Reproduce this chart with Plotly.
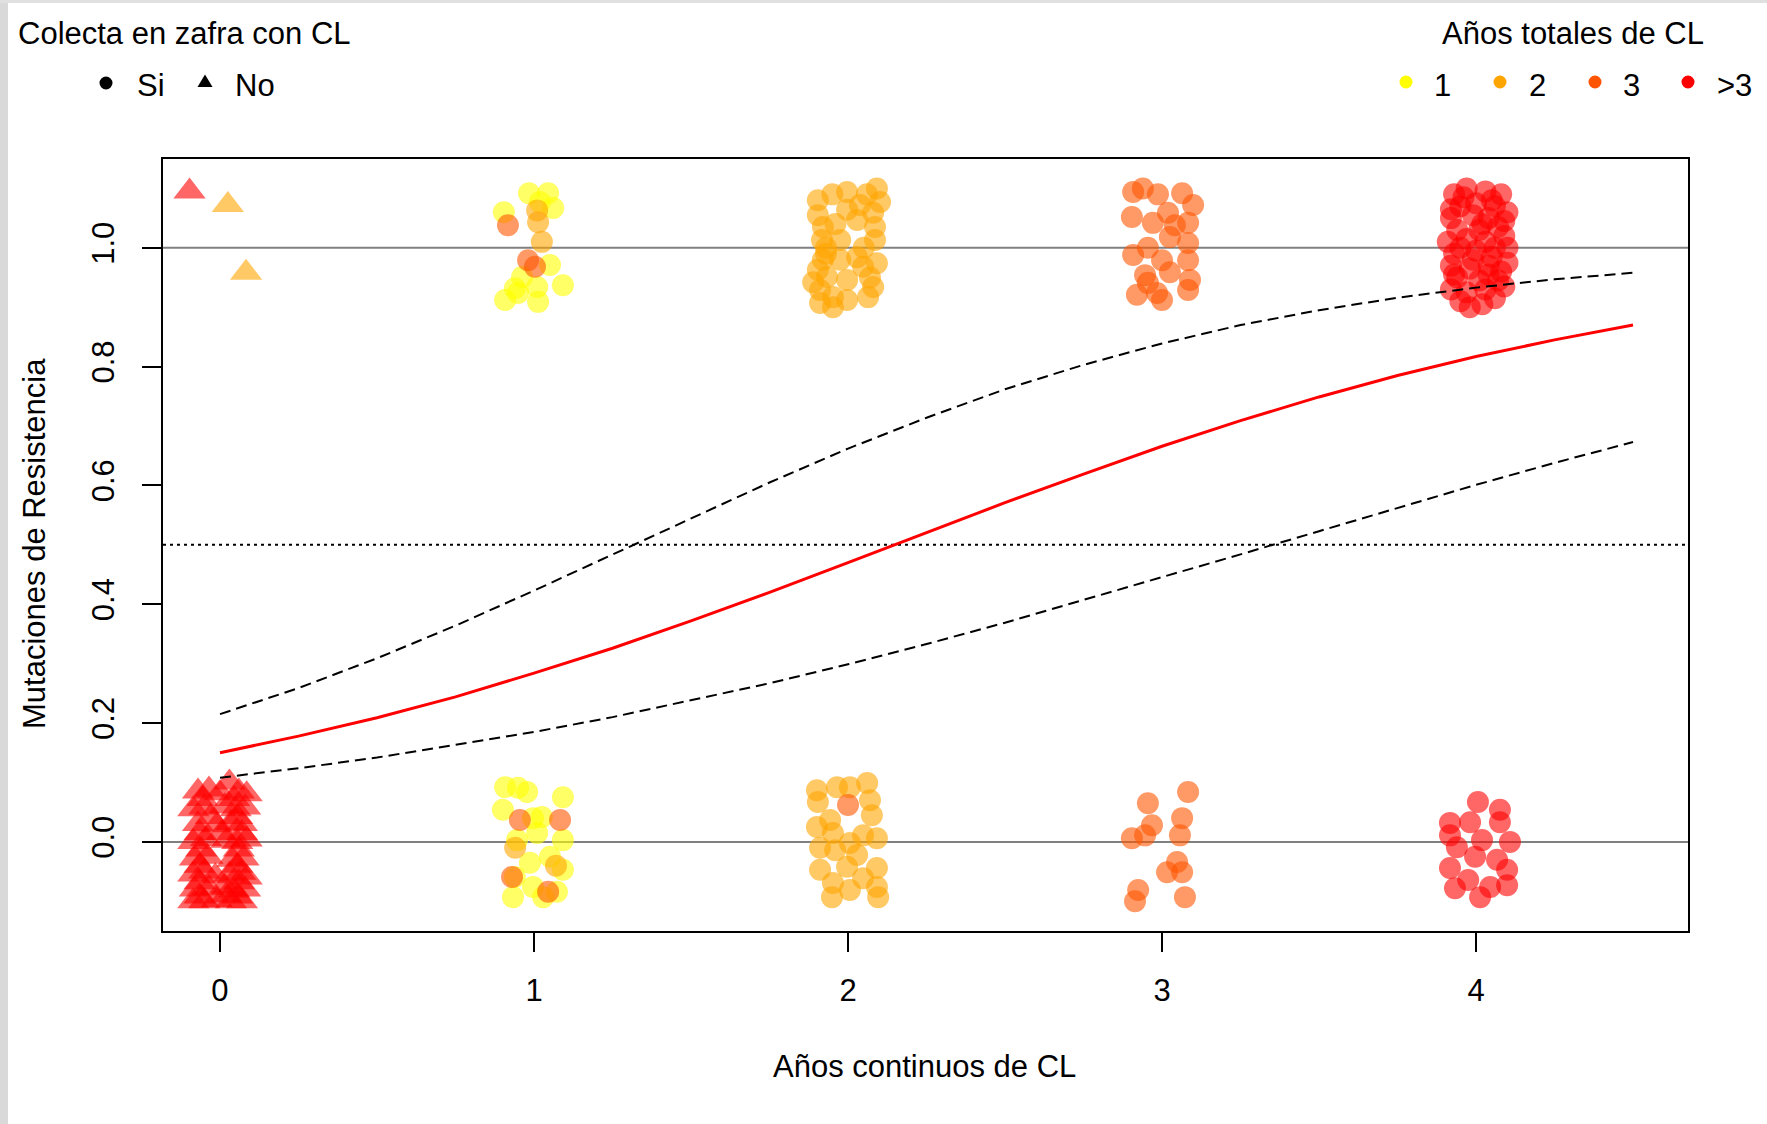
import plotly.graph_objects as go

# ---------------- data ----------------
# fitted curve and confidence band
fit_x = [0, 0.25, 0.5, 0.75, 1.0, 1.25, 1.5, 1.75, 2.0, 2.25, 2.5, 2.75, 3.0, 3.25, 3.5, 3.75, 4.0, 4.25, 4.5]
fit_y = [0.150, 0.178, 0.209, 0.244, 0.284, 0.326, 0.372, 0.420, 0.470, 0.521, 0.571, 0.619, 0.666, 0.709, 0.749, 0.785, 0.817, 0.845, 0.870]
upper_y = [0.215, 0.259, 0.309, 0.364, 0.423, 0.484, 0.545, 0.605, 0.662, 0.714, 0.762, 0.803, 0.839, 0.870, 0.895, 0.916, 0.933, 0.947, 0.958]
lower_y = [0.108, 0.124, 0.142, 0.163, 0.185, 0.210, 0.238, 0.267, 0.299, 0.333, 0.369, 0.407, 0.445, 0.484, 0.523, 0.562, 0.601, 0.638, 0.673]

# Colecta = Si (circles), by total years of CL
si_t1_x = [0.984, 1.045, 0.904, 1.019, 1.061, 1.051, 0.962, 1.092, 0.939, 1.010, 0.908, 1.013, 0.949,
           0.908, 0.949, 0.978, 1.092, 0.901, 0.997, 1.025, 1.092, 1.010, 0.987, 1.051, 1.092, 0.939, 0.997, 0.933, 1.073, 1.029, 0.946]
si_t1_y = [1.092, 1.092, 1.060, 1.077, 1.067, 0.971, 0.951, 0.937, 0.932, 0.934, 0.912, 0.909, 0.924,
           0.092, 0.091, 0.084, 0.075, 0.054, 0.040, 0.042, 0.003, 0.015, -0.035, -0.025, -0.047, -0.059, -0.076, -0.093, -0.084, -0.093, 0.003]

si_t2_x = [1.010, 1.013, 1.025, 0.940, 1.070,
           1.904, 1.997, 2.092, 2.102, 1.904, 1.997, 2.038, 2.080, 1.920, 2.086, 1.975, 2.086, 1.917, 2.029,
           1.920, 1.975, 2.092, 2.048, 1.904, 1.933, 1.997, 2.080, 1.911, 1.952, 1.997, 2.064, 1.911, 1.952, 1.889, 2.029,
           1.950, 2.060, 1.930, 2.050, 1.960, 2.070, 1.930,
           1.901, 1.965, 2.006, 2.061, 1.904, 2.070, 2.076, 1.901, 1.943, 1.952, 2.006, 2.048, 2.092, 1.911, 1.959,
           2.029, 1.911, 1.997, 2.092, 2.048, 1.952, 2.006, 2.092, 1.949, 2.096]
si_t2_y = [1.063, 1.043, 1.010, -0.010, -0.040,
           1.080, 1.094, 1.100, 1.077, 1.055, 1.064, 1.072, 1.059, 1.035, 1.035, 1.013, 1.013, 1.013, 1.047,
           0.980, 0.980, 0.974, 0.968, 0.963, 0.951, 0.946, 0.934, 0.929, 0.917, 0.912, 0.917, 0.907, 0.900, 0.942, 0.984,
           1.090, 1.090, 1.000, 1.000, 1.040, 0.950, 0.990,
           0.087, 0.092, 0.092, 0.099, 0.067, 0.070, 0.045, 0.025, 0.037, 0.015, -0.002, 0.011, 0.006, -0.010, -0.014,
           -0.022, -0.047, -0.042, -0.044, -0.061, -0.069, -0.081, -0.076, -0.093, -0.093]

si_t3_x = [0.917, 0.981, 1.003, 0.955, 1.083, 0.930, 1.045,
           2.000,
           2.908, 2.939, 2.987, 3.064, 3.099, 2.904, 2.971, 3.019, 3.041, 3.083, 3.025, 3.083,
           2.908, 2.955, 3.000, 3.083, 2.946, 3.025, 3.089, 2.920, 2.984, 3.000, 3.083, 2.955,
           2.955, 3.083, 2.968, 3.064, 2.904, 2.946, 3.057, 3.048, 3.016, 3.064, 2.924, 2.914, 3.073]
si_t3_y = [1.038, 0.979, 0.968, 0.037, 0.037, -0.059, -0.084,
           0.062,
           1.094, 1.100, 1.090, 1.092, 1.072, 1.052, 1.042, 1.059, 1.038, 1.042, 1.018, 1.008,
           0.988, 1.000, 0.979, 0.979, 0.954, 0.959, 0.946, 0.921, 0.924, 0.912, 0.929, 0.941,
           0.065, 0.084, 0.028, 0.040, 0.006, 0.011, 0.011, -0.034, -0.051, -0.051, -0.081, -0.100, -0.093]

si_t4_x = [3.93, 3.97, 4.03, 4.08, 3.95, 4.00, 4.06, 3.92, 3.99, 4.04, 4.10, 3.94, 4.01, 4.07, 3.91, 3.97, 4.03, 4.09,
           3.93, 4.00, 4.05, 4.10, 3.92, 3.98, 4.04, 4.08, 3.94, 4.01, 4.07, 3.92, 3.97, 4.03, 4.09, 3.95, 4.02, 4.06,
           3.96, 4.05, 3.92, 4.02, 4.09, 3.95, 4.06, 3.99, 4.10, 3.93, 4.04, 3.98,
           4.006, 4.076, 3.917, 3.981, 4.076, 3.917, 4.019, 4.108, 3.939, 3.997, 4.067, 3.917, 3.975, 4.099, 3.933, 4.013, 4.099, 4.045]
si_t4_y = [1.090, 1.100, 1.095, 1.090, 1.070, 1.075, 1.070, 1.050, 1.055, 1.050, 1.060, 1.030, 1.030, 1.035, 1.010, 1.015, 1.010, 1.020,
           0.990, 0.995, 0.985, 1.000, 0.970, 0.965, 0.970, 0.960, 0.950, 0.945, 0.945, 0.930, 0.925, 0.930, 0.935, 0.910, 0.905, 0.915,
           1.085, 1.080, 1.065, 1.040, 1.045, 1.000, 1.000, 0.980, 0.975, 0.955, 0.955, 0.900,
           0.067, 0.054, 0.032, 0.033, 0.033, 0.011, 0.003, 0.000, -0.009, -0.025, -0.030, -0.044, -0.064, -0.047, -0.078, -0.093, -0.073, -0.076]

# Colecta = No (triangles)
no_t2_x = [0.025, 0.083]
no_t2_y = [1.072, 0.958]
no_t4_x = [-0.097,
           -0.070, -0.035, 0.000, 0.030, 0.060, 0.085,
           -0.085, -0.050, 0.015, 0.050, 0.080,
           -0.070, -0.010, 0.035, 0.070,
           -0.085, -0.045, 0.020, 0.055, 0.085,
           -0.080, -0.040, 0.040, 0.075,
           -0.085, -0.050, -0.015, 0.030, 0.065, 0.085,
           -0.080, -0.035, 0.045, 0.080,
           -0.085, -0.050, -0.010, 0.035, 0.070,
           -0.055, 0.045, -0.030, 0.055, -0.065, 0.005, 0.070, -0.060, 0.060,
           -0.065, 0.055, -0.065, 0.060, 0.015, -0.065, 0.020, 0.055]
no_t4_y = [1.095,
           0.085, 0.088, 0.082, 0.100, 0.085, 0.080,
           0.055, 0.058, 0.060, 0.055, 0.058,
           0.030, 0.028, 0.032, 0.030,
           0.000, 0.005, 0.002, 0.000, 0.004,
           -0.028, -0.025, -0.030, -0.028,
           -0.055, -0.050, -0.058, -0.055, -0.052, -0.060,
           -0.080, -0.078, -0.082, -0.080,
           -0.100, -0.100, -0.098, -0.100, -0.100,
           0.072, 0.072, 0.042, 0.042, 0.015, 0.015, 0.015, -0.013, -0.013,
           -0.040, -0.040, -0.068, -0.068, -0.075, -0.092, -0.090, -0.092]

tot_labels = ["1", "2", "3", ">3"]
tot_colors = ["#FFFF00", "#FFA500", "#FF5500", "#FF0000"]
x_ticks = [0, 1, 2, 3, 4]
y_ticks = [0.0, 0.2, 0.4, 0.6, 0.8, 1.0]

# ---------------- layout geometry ----------------
W, H = 1767, 1124
L, R, T, B = 163, 79, 159, 193
PW, PH = W - L - R, H - T - B
FONT = "Liberation Sans, Arial, sans-serif"
FS = 31
XR = [-0.1815, 4.675]
YR = [-0.150, 1.1495]


def pxx(p):
    return (p - L) / PW


def pxy(p):
    return (H - B - p) / PH


fig = go.Figure()

# reference lines
for yv in [0, 1]:
    fig.add_trace(go.Scatter(x=XR, y=[yv, yv], mode="lines",
                             line=dict(color="#808080", width=2), hoverinfo="skip"))
fig.add_trace(go.Scatter(x=XR, y=[0.5, 0.5], mode="lines",
                         line=dict(color="black", width=2, dash="3px,4px"), hoverinfo="skip"))

# points
MS = 22
for xs, ys, c in [(si_t1_x, si_t1_y, tot_colors[0]), (si_t2_x, si_t2_y, tot_colors[1]),
                  (si_t3_x, si_t3_y, tot_colors[2]), (si_t4_x, si_t4_y, tot_colors[3])]:
    fig.add_trace(go.Scatter(x=xs, y=ys, mode="markers",
                             marker=dict(symbol="circle", size=MS, color=c, opacity=0.6, line=dict(width=0))))
for xs, ys, c in [(no_t2_x, no_t2_y, tot_colors[1]), (no_t4_x, no_t4_y, tot_colors[3])]:
    fig.add_trace(go.Scatter(x=xs, y=ys, mode="markers",
                             marker=dict(symbol="triangle-up", size=28, color=c, opacity=0.6, line=dict(width=0))))

# fitted curve and band
fig.add_trace(go.Scatter(x=fit_x, y=upper_y, mode="lines", line=dict(color="black", width=2, dash="11px,6px")))
fig.add_trace(go.Scatter(x=fit_x, y=lower_y, mode="lines", line=dict(color="black", width=2, dash="11px,6px")))
fig.add_trace(go.Scatter(x=fit_x, y=fit_y, mode="lines", line=dict(color="#FF0000", width=3)))

shapes = []
# window gray borders
shapes.append(dict(type="rect", xref="paper", yref="paper", x0=pxx(0), x1=pxx(8), y0=pxy(H), y1=pxy(0),
                   fillcolor="#D9D9D9", line=dict(width=0), layer="below"))
shapes.append(dict(type="rect", xref="paper", yref="paper", x0=pxx(0), x1=pxx(W), y0=pxy(3), y1=pxy(0),
                   fillcolor="#E0E0E0", line=dict(width=0), layer="below"))

# legend symbols
r = 6.5
shapes.append(dict(type="circle", xref="paper", yref="paper", xsizemode="pixel", ysizemode="pixel",
                   xanchor=pxx(106), yanchor=pxy(83), x0=-r, x1=r, y0=-r, y1=r,
                   fillcolor="black", line=dict(width=0)))
shapes.append(dict(type="path", xref="paper", yref="paper", xsizemode="pixel", ysizemode="pixel",
                   xanchor=pxx(205), yanchor=pxy(82), path="M -7.5,-5 L 7.5,-5 L 0,7.5 Z",
                   fillcolor="black", line=dict(width=0)))
dot_x = [1406, 1500, 1595, 1688]
for xp, c in zip(dot_x, tot_colors):
    shapes.append(dict(type="circle", xref="paper", yref="paper", xsizemode="pixel", ysizemode="pixel",
                       xanchor=pxx(xp), yanchor=pxy(82), x0=-r, x1=r, y0=-r, y1=r,
                       fillcolor=c, line=dict(width=0)))

ann = []
tf = dict(family=FONT, size=FS, color="black")
ann.append(dict(text="Colecta en zafra con CL", x=pxx(16), y=pxy(33), xref="paper", yref="paper",
                xanchor="left", yanchor="middle", showarrow=False, font=tf))
ann.append(dict(text="Si", x=pxx(135), y=pxy(85), xref="paper", yref="paper",
                xanchor="left", yanchor="middle", showarrow=False, font=tf))
ann.append(dict(text="No", x=pxx(233), y=pxy(85), xref="paper", yref="paper",
                xanchor="left", yanchor="middle", showarrow=False, font=tf))
ann.append(dict(text="Años totales de CL", x=pxx(1440), y=pxy(33), xref="paper", yref="paper",
                xanchor="left", yanchor="middle", showarrow=False, font=tf))
lab_x = [1442, 1537, 1631, 1734]
for xp, t in zip(lab_x, tot_labels):
    ann.append(dict(text=t, x=pxx(xp), y=pxy(85), xref="paper", yref="paper",
                    xanchor="center", yanchor="middle", showarrow=False, font=tf))
ann.append(dict(text="Años continuos de CL", x=pxx(924), y=pxy(1066), xref="paper", yref="paper",
                xanchor="center", yanchor="middle", showarrow=False, font=tf))
ann.append(dict(text="Mutaciones de Resistencia", x=pxx(34), y=pxy(544), xref="paper", yref="paper",
                xanchor="center", yanchor="middle", textangle=-90, showarrow=False, font=tf))

fig.update_layout(
    width=W, height=H,
    margin=dict(l=L, r=R, t=T, b=B, pad=0),
    paper_bgcolor="white", plot_bgcolor="white",
    showlegend=False,
    shapes=shapes, annotations=ann,
    xaxis=dict(range=XR, tickvals=x_ticks, ticktext=[str(v) for v in x_ticks],
               showgrid=False, zeroline=False, showline=True, mirror=True, linecolor="black", linewidth=2,
               ticks="outside", ticklen=19, tickwidth=2, tickcolor="black",
               tickfont=dict(family=FONT, size=FS, color="black"), ticklabelstandoff=12),
    yaxis=dict(range=YR, tickvals=y_ticks, ticktext=["%.1f" % v for v in y_ticks],
               showgrid=False, zeroline=False, showline=True, mirror=True, linecolor="black", linewidth=2,
               ticks="outside", ticklen=19, tickwidth=2, tickcolor="black", tickangle=-90,
               tickfont=dict(family=FONT, size=FS, color="black"), ticklabelstandoff=16),
)

fig.write_html("out.html", config={"displayModeBar": False},
               post_script="document.body.style.margin='0px';")
